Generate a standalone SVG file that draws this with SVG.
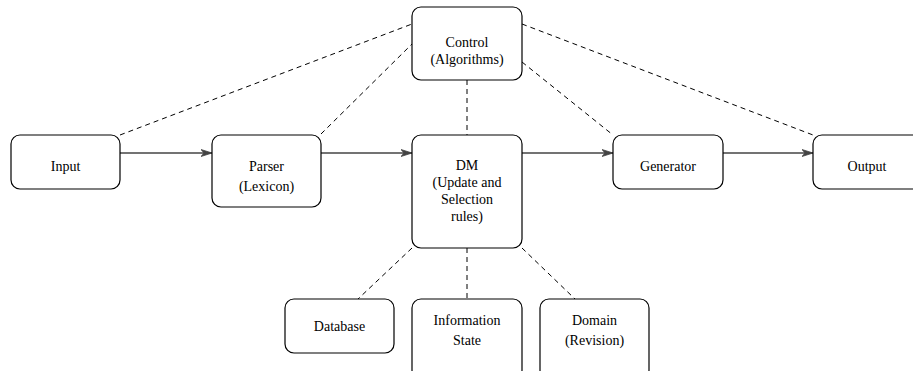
<svg xmlns="http://www.w3.org/2000/svg" width="913" height="371" viewBox="0 0 913 371">
<defs>
<style>
.box{fill:#fff;stroke:#000;stroke-width:1.2}
.t{font-family:"Liberation Serif","Times New Roman",serif;font-size:14px;fill:#000;text-anchor:middle}
.flow{stroke:#444;stroke-width:1.5;fill:none}
.dash{stroke:#000;stroke-width:1;fill:none;stroke-dasharray:5 4}
</style>
<marker id="arr" markerWidth="12" markerHeight="8" refX="11" refY="4" orient="auto" markerUnits="userSpaceOnUse">
<path d="M0,0.5 L11,4 L0,7.5 L3,4 Z" fill="#444" stroke="#444" stroke-width="0.8"/>
</marker>
</defs>
<rect width="913" height="371" fill="#fff"/>
<g id="connectors">
<line class="flow" x1="120" y1="153" x2="212" y2="153" marker-end="url(#arr)"/>
<line class="flow" x1="321" y1="153" x2="412" y2="153" marker-end="url(#arr)"/>
<line class="flow" x1="522" y1="153" x2="613" y2="153" marker-end="url(#arr)"/>
<line class="flow" x1="723" y1="153" x2="813" y2="153" marker-end="url(#arr)"/>
<line class="dash" x1="120" y1="135" x2="412" y2="24"/>
<line class="dash" x1="321" y1="134" x2="412" y2="44"/>
<line class="dash" x1="467" y1="80" x2="467" y2="135"/>
<line class="dash" x1="522" y1="62" x2="613" y2="135"/>
<line class="dash" x1="522" y1="24" x2="813" y2="135"/>
<line class="dash" x1="412" y1="248" x2="358" y2="299"/>
<line class="dash" x1="467" y1="248" x2="467" y2="299"/>
<line class="dash" x1="522" y1="248" x2="575" y2="299"/>
</g>
<g id="control">
<rect class="box" x="412" y="7" width="110" height="73" rx="9"/>
<text class="t" x="467" y="47">Control</text>
<text class="t" x="467" y="64">(Algorithms)</text>
</g>
<g id="input">
<rect class="box" x="11" y="135" width="109" height="54" rx="9"/>
<text class="t" x="65.5" y="171">Input</text>
</g>
<g id="parser">
<rect class="box" x="212" y="135" width="109" height="72" rx="9"/>
<text class="t" x="266.5" y="171">Parser</text>
<text class="t" x="266.5" y="191">(Lexicon)</text>
</g>
<g id="dm">
<rect class="box" x="412" y="135" width="110" height="113" rx="9"/>
<text class="t" x="467" y="170">DM</text>
<text class="t" x="467" y="187">(Update and</text>
<text class="t" x="467" y="204">Selection</text>
<text class="t" x="467" y="221">rules)</text>
</g>
<g id="generator">
<rect class="box" x="613" y="135" width="110" height="54" rx="9"/>
<text class="t" x="668" y="171">Generator</text>
</g>
<g id="output">
<rect class="box" x="813" y="135" width="110" height="54" rx="9"/>
<text class="t" x="867" y="171">Output</text>
</g>
<g id="database">
<rect class="box" x="285" y="299" width="109" height="54" rx="9"/>
<text class="t" x="339.5" y="331">Database</text>
</g>
<g id="information-state">
<rect class="box" x="412" y="299" width="110" height="80" rx="9"/>
<text class="t" x="467" y="325">Information</text>
<text class="t" x="467" y="345">State</text>
</g>
<g id="domain">
<rect class="box" x="540" y="299" width="109" height="80" rx="9"/>
<text class="t" x="594.5" y="325">Domain</text>
<text class="t" x="594.5" y="345">(Revision)</text>
</g>
</svg>
